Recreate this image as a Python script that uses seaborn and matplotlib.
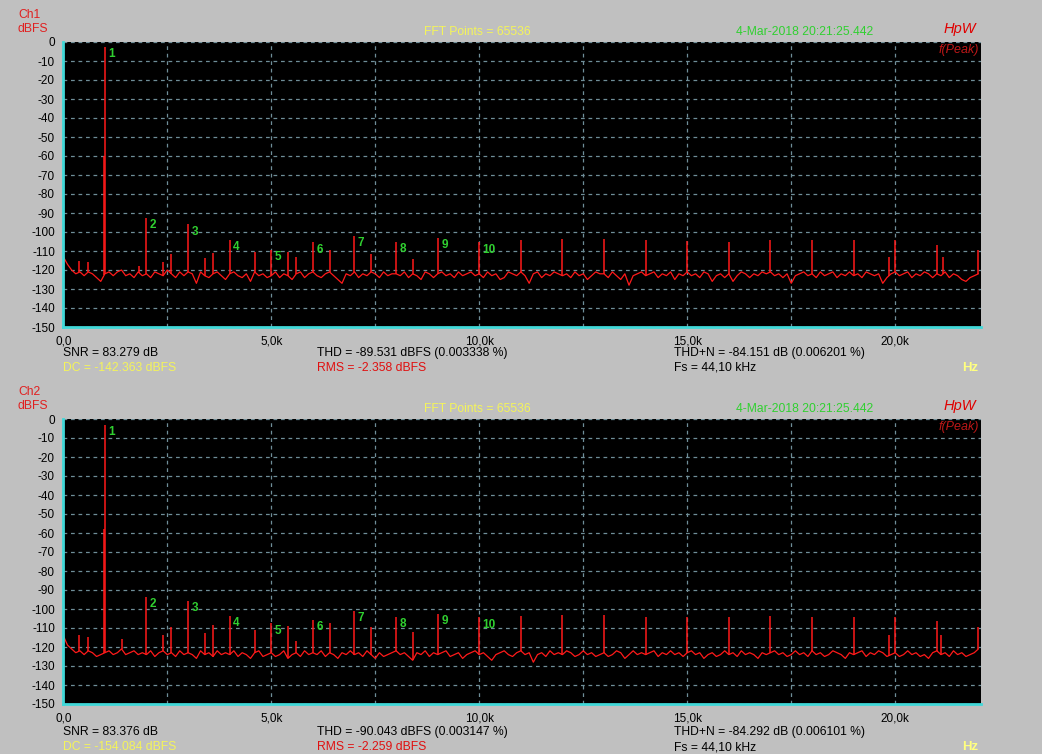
import numpy as np
import pandas as pd
import matplotlib
matplotlib.use("Agg")
import matplotlib.pyplot as plt
import seaborn as sns

# frequency grid of the noise floor, kHz
freq_khz = [round(0.1 * i, 1) for i in range(221)]

ch1_noise = [
    -113, -117, -120, -122, -121, -123, -121, -122, -124, -126,
    -122, -121, -123, -121, -120, -123, -122, -124, -121, -123,
    -122, -124, -121, -122, -123, -120, -122, -124, -121, -123,
    -121, -122, -127, -121, -123, -124, -122, -121, -123, -125,
    -122, -121, -123, -124, -122, -126, -121, -123, -122, -124,
    -123, -121, -124, -122, -123, -125, -122, -121, -124, -122,
    -121, -123, -124, -122, -121, -123, -125, -127, -122, -123,
    -121, -124, -122, -123, -121, -122, -124, -121, -123, -122,
    -122, -123, -121, -124, -122, -123, -125, -121, -122, -124,
    -122, -121, -123, -122, -124, -121, -123, -122, -121, -123,
    -122, -124, -121, -123, -122, -125, -124, -121, -122, -123,
    -121, -123, -127, -122, -121, -124, -122, -123, -121, -122,
    -123, -122, -124, -121, -123, -122, -125, -123, -121, -122,
    -122, -124, -121, -123, -125, -122, -128, -123, -122, -121,
    -123, -122, -121, -124, -122, -123, -121, -125, -122, -123,
    -121, -123, -122, -124, -121, -122, -126, -123, -122, -124,
    -122, -126, -123, -121, -122, -124, -122, -123, -121, -122,
    -121, -123, -122, -124, -122, -127, -123, -122, -121, -123,
    -122, -124, -121, -123, -122, -121, -124, -122, -123, -121,
    -123, -122, -124, -121, -122, -123, -122, -127, -124, -122,
    -121, -123, -122, -121, -124, -122, -123, -121, -122, -124,
    -122, -123, -121, -124, -122, -123, -125, -126, -124, -123,
    -122,
]

ch2_noise = [
    -114, -119, -121, -123, -122, -124, -122, -123, -125, -124,
    -123, -122, -124, -123, -121, -124, -123, -122, -124, -123,
    -124, -122, -125, -123, -122, -124, -123, -125, -122, -124,
    -123, -124, -126, -122, -124, -123, -125, -122, -124, -123,
    -124, -122, -125, -123, -124, -126, -123, -122, -125, -124,
    -123, -125, -124, -122, -126, -124, -123, -125, -122, -124,
    -123, -124, -122, -125, -123, -124, -126, -123, -124, -122,
    -124, -123, -125, -122, -124, -126, -123, -125, -124, -123,
    -122, -124, -123, -125, -127, -123, -124, -122, -125, -123,
    -124, -123, -122, -125, -124, -123, -126, -124, -123, -122,
    -124, -123, -125, -127, -124, -123, -122, -124, -125, -123,
    -122, -124, -123, -128, -124, -123, -125, -122, -124, -123,
    -124, -122, -123, -125, -124, -122, -124, -123, -125, -124,
    -123, -125, -124, -122, -123, -126, -124, -122, -124, -123,
    -124, -123, -122, -125, -123, -124, -122, -124, -123, -125,
    -123, -122, -124, -123, -126, -124, -123, -125, -124, -122,
    -124, -123, -125, -122, -124, -123, -124, -126, -123, -124,
    -123, -122, -124, -123, -125, -124, -122, -124, -123, -125,
    -122, -124, -123, -125, -124, -122, -123, -124, -126, -123,
    -124, -123, -122, -125, -123, -124, -122, -123, -125, -124,
    -123, -125, -124, -122, -124, -123, -125, -124, -126, -123,
    -122, -124, -123, -125, -122, -124, -123, -125, -124, -123,
    -121,
]

# numbered harmonics
harm_khz = [1, 2, 3, 4, 5, 6, 7, 8, 9, 10]
ch1_harm_db = [-2.4, -92.6, -96, -104, -109.5, -105.4, -102, -105, -103, -105.4]
ch2_harm_db = [-3.0, -93.5, -95.6, -103.7, -107.5, -105.8, -100.9, -104, -102.6, -104.4]

# other spurs / higher harmonics
ch1_spur_khz = [0.38, 0.6, 0.98, 1.82, 2.4, 2.6, 3.4, 3.6, 4.6, 5.4, 5.6, 6.4, 7.4, 8.4,
                11, 12, 13, 14, 15, 16, 17, 18, 19, 19.85, 20, 21, 21.15, 22]
ch1_spur_db = [-115.4, -115.8, -60, -118, -116, -111.6, -113.7, -111, -110.7, -110.7, -113,
               -109.3, -111.4, -114, -104, -103.5, -103.5, -104, -104.7, -105.2, -104,
               -104.4, -104.4, -113, -104, -106.7, -113, -109.3]
ch2_spur_khz = [0.38, 0.6, 0.98, 1.4, 2.4, 2.6, 3.4, 3.6, 4.6, 5.4, 5.6, 6.4, 7.4, 8.4,
                11, 12, 13, 14, 15, 16, 17, 18, 19, 19.85, 20, 21, 21.1, 22]
ch2_spur_db = [-113.7, -114.6, -58, -116, -113.7, -109.3, -112.8, -108.4, -111, -108.8, -117,
               -107.5, -109.3, -112, -103.7, -103.2, -103.2, -104, -104.4, -104.4, -103.7,
               -104, -104, -113.7, -104, -106.3, -113.7, -109.3]

ch1_stats = ["SNR = 83.279 dB", "DC = -142.363 dBFS", "THD = -89.531 dBFS (0.003338 %)",
             "RMS = -2.358 dBFS", "THD+N = -84.151 dB (0.006201 %)", "Fs = 44,10 kHz"]
ch2_stats = ["SNR = 83.376 dB", "DC = -154.084 dBFS", "THD = -90.043 dBFS (0.003147 %)",
             "RMS = -2.259 dBFS", "THD+N = -84.292 dB (0.006101 %)", "Fs = 44,10 kHz"]

sns.set_style("dark")
plt.rcParams['font.family'] = ['Liberation Sans', 'DejaVu Sans']
plt.rcParams['axes.unicode_minus'] = False

W, H = 1042, 754
BG = "#c0c0c0"
RED = "#ff1a1a"
GRID = "#6f8e98"
CYAN = "#40d8d8"
YEL = "#f4f45a"
GRN = "#30d030"

fig = plt.figure(figsize=(W / 100, H / 100), dpi=100)
fig.patch.set_facecolor(BG)


def ftext(x, y, s, **kw):
    kw.setdefault("fontsize", 8.7)
    kw.setdefault("va", "center")
    fig.text(x / W, 1 - y / H, s, **kw)


def panel(top_px, name, noise, harm_db, spur_khz, spur_db, stats, stats_y):
    ax = fig.add_axes([63.3 / W, 1 - (top_px + 285) / H, 917.2 / W, 285 / H])
    ax.set_facecolor("black")
    df = pd.DataFrame({"kHz": freq_khz, "dB": noise})
    sns.lineplot(data=df, x="kHz", y="dB", ax=ax, color=RED, lw=0.9, estimator=None)

    sk = np.array(harm_khz + spur_khz, dtype=float)
    sd = np.array(harm_db + spur_db, dtype=float)
    base = np.interp(sk, freq_khz, noise)
    ax.vlines(sk, base, sd, color=RED, lw=1.1)

    for n, (f, d) in enumerate(zip(harm_khz, harm_db), start=1):
        ax.annotate(str(n), (f, d), xytext=(2.5, -1), textcoords="offset points",
                    ha="left", va="top", color=GRN, fontsize=8.5, fontweight="bold")

    ticks = np.arange(0, 22.05, 2.5)
    ax.set_xlim(0, 22.05)
    ax.set_ylim(-150, 0)
    ax.set_xticks(ticks)
    ax.set_xticklabels(["0,0" if v == 0 else (f"{v:.1f}k".replace(".", ",") if v % 5 == 0 else "")
                        for v in ticks])
    ax.set_yticks(np.arange(-150, 1, 10))
    ax.tick_params(axis="both", length=0, labelsize=8.5, colors="black")
    ax.tick_params(axis="x", pad=6)
    ax.tick_params(axis="y", pad=6)
    ax.grid(True, color=GRID, ls=(0, (3, 3)), lw=0.9)
    ax.set_xlabel("")
    ax.set_ylabel("")
    for s in ["top", "right"]:
        ax.spines[s].set_visible(False)
    for s in ["left", "bottom"]:
        ax.spines[s].set_color(CYAN)
        ax.spines[s].set_linewidth(2)
    ax.text(0.998, 0.972, "f(Peak)", transform=ax.transAxes, ha="right", va="center",
            color="#c01818", fontsize=9, fontstyle="italic")

    ftext(18, top_px - 27, name, color="#e02020")
    ftext(18, top_px - 13, "dBFS", color="#e02020")
    ftext(477, top_px - 10, "FFT Points = 65536", color=YEL, ha="center")
    ftext(805, top_px - 10, "4-Mar-2018 20:21:25.442", color=GRN, ha="center")
    ftext(960, top_px - 13, "HpW", color="#e00000", ha="center", fontsize=10.5,
          fontstyle="italic")

    ftext(63, stats_y, stats[0], color="black")
    ftext(63, stats_y + 15, stats[1], color=YEL)
    ftext(317, stats_y, stats[2], color="black")
    ftext(317, stats_y + 15, stats[3], color="#e01010")
    ftext(674, stats_y, stats[4], color="black")
    ftext(674, stats_y + 15, stats[5], color="black")
    ftext(970, stats_y + 15, "Hz", color="#ffff80", ha="center", fontsize=9.5,
          fontweight="bold")
    return ax


panel(42, "Ch1", ch1_noise, ch1_harm_db, ch1_spur_khz, ch1_spur_db, ch1_stats, 353)
panel(419, "Ch2", ch2_noise, ch2_harm_db, ch2_spur_khz, ch2_spur_db, ch2_stats, 732)

fig.savefig("out.png", dpi=100, facecolor=BG)
